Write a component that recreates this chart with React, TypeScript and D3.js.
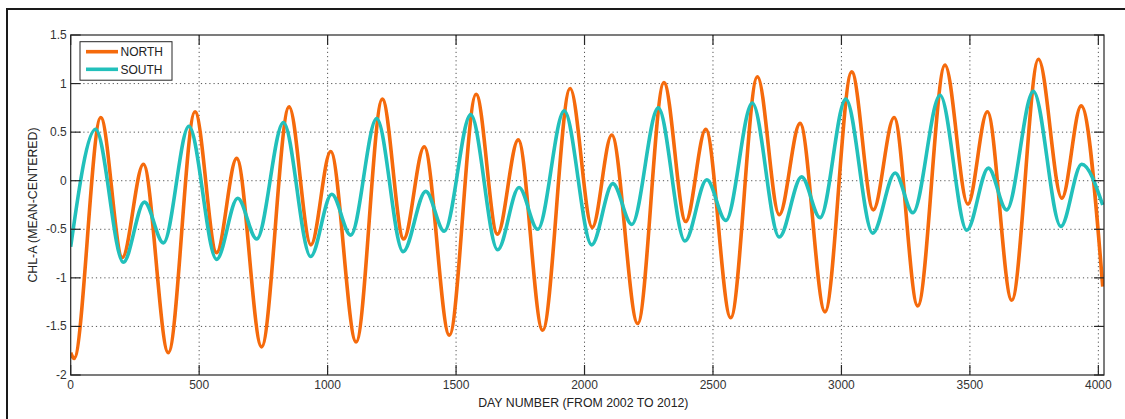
import * as d3 from 'd3';
import React, { useEffect, useRef } from 'react';

const northDays = [0, 13, 117, 201, 283, 380, 484, 568, 646, 743, 850, 935, 1012, 1111, 1213, 1296, 1376, 1474, 1578, 1661, 1742, 1837, 1944, 2030, 2106, 2207, 2309, 2394, 2472, 2569, 2673, 2758, 2839, 2936, 3040, 3124, 3205, 3297, 3403, 3492, 3568, 3663, 3767, 3858, 3933, 4017];
const northValues = [-1.77, -1.83, 0.65, -0.79, 0.17, -1.77, 0.71, -0.74, 0.23, -1.71, 0.76, -0.66, 0.30, -1.66, 0.84, -0.60, 0.35, -1.59, 0.89, -0.55, 0.42, -1.54, 0.95, -0.48, 0.47, -1.47, 1.01, -0.42, 0.53, -1.41, 1.07, -0.35, 0.59, -1.35, 1.12, -0.30, 0.65, -1.29, 1.19, -0.24, 0.71, -1.23, 1.25, -0.18, 0.77, -1.09];

const southDays = [0, 97, 205, 287, 361, 460, 568, 650, 724, 828, 934, 1016, 1090, 1191, 1294, 1382, 1454, 1557, 1662, 1745, 1818, 1921, 2028, 2110, 2184, 2287, 2391, 2476, 2550, 2653, 2758, 2845, 2917, 3017, 3122, 3209, 3278, 3384, 3488, 3572, 3643, 3747, 3854, 3935, 4017];
const southValues = [-0.68, 0.53, -0.84, -0.22, -0.64, 0.56, -0.81, -0.18, -0.60, 0.60, -0.78, -0.14, -0.56, 0.64, -0.73, -0.11, -0.52, 0.68, -0.71, -0.07, -0.50, 0.72, -0.66, -0.03, -0.45, 0.75, -0.62, 0.01, -0.41, 0.80, -0.58, 0.04, -0.38, 0.84, -0.54, 0.08, -0.33, 0.88, -0.51, 0.13, -0.30, 0.92, -0.47, 0.17, -0.25];

const xTicks = [0, 500, 1000, 1500, 2000, 2500, 3000, 3500, 4000];
const yTicks = [-2, -1.5, -1, -0.5, 0, 0.5, 1, 1.5];
const seriesNames = ['NORTH', 'SOUTH'];

const W = 1125;
const H = 419;

export default function App() {
    const ref = useRef<SVGSVGElement>(null);

    useEffect(() => {
        const svg = d3.select(ref.current);
        svg.selectAll('*').remove();

        const left = 70.7, right = 1104, top = 35, bottom = 375;
        const x = d3.scaleLinear().domain([0, 4022]).range([left, right]);
        const y = d3.scaleLinear().domain([-2, 1.5]).range([bottom, top]);
        const font = '"Liberation Sans", Arial, sans-serif';
        const ink = '#262626';
        const colors = ['#f56a0c', '#22c0bb'];

        svg.append('rect').attr('width', W).attr('height', H).attr('fill', '#fff');

        // outer frame (only the left and top edges show in the picture)
        svg.append('path')
            .attr('d', `M7,${H} V9 H${W}`)
            .attr('fill', 'none')
            .attr('stroke', '#1a1a1a')
            .attr('stroke-width', 2);

        svg.append('defs').append('clipPath').attr('id', 'plot')
            .append('rect')
            .attr('x', left).attr('y', top)
            .attr('width', right - left).attr('height', bottom - top);

        // dotted grid
        const grid = svg.append('g')
            .attr('stroke', '#555')
            .attr('stroke-width', 1)
            .attr('stroke-dasharray', '1.2,3');
        grid.selectAll('.gx').data(xTicks.filter(d => d > 0)).enter().append('line')
            .attr('x1', d => x(d)).attr('x2', d => x(d))
            .attr('y1', top).attr('y2', bottom);
        grid.selectAll('.gy').data(yTicks.filter(d => d > -2 && d < 1.5)).enter().append('line')
            .attr('x1', left).attr('x2', right)
            .attr('y1', d => y(d)).attr('y2', d => y(d));

        // curves
        const line = d3.line<[number, number]>()
            .x(d => x(d[0]))
            .y(d => y(d[1]))
            .curve(d3.curveMonotoneX);

        const series = [
            d3.zip(northDays, northValues) as [number, number][],
            d3.zip(southDays, southValues) as [number, number][],
        ];

        svg.append('g').attr('clip-path', 'url(#plot)')
            .selectAll('path').data(series).enter().append('path')
            .attr('d', d => line(d))
            .attr('fill', 'none')
            .attr('stroke', (d, i) => colors[i])
            .attr('stroke-width', 3.6)
            .attr('stroke-linejoin', 'round');

        // axes box and inward ticks on all four sides
        const axes = svg.append('g').attr('stroke', ink).attr('stroke-width', 1.2).attr('fill', 'none');
        axes.append('rect')
            .attr('x', left).attr('y', top)
            .attr('width', right - left).attr('height', bottom - top);
        const tick = 10;
        xTicks.forEach(t => {
            axes.append('line').attr('x1', x(t)).attr('x2', x(t)).attr('y1', bottom).attr('y2', bottom - tick);
            axes.append('line').attr('x1', x(t)).attr('x2', x(t)).attr('y1', top).attr('y2', top + tick);
        });
        yTicks.forEach(t => {
            axes.append('line').attr('x1', left).attr('x2', left + tick).attr('y1', y(t)).attr('y2', y(t));
            axes.append('line').attr('x1', right).attr('x2', right - tick).attr('y1', y(t)).attr('y2', y(t));
        });

        // tick labels
        svg.append('g').selectAll('text').data(xTicks).enter().append('text')
            .attr('x', d => x(d)).attr('y', bottom + 14)
            .attr('text-anchor', 'middle')
            .style('font', `12px ${font}`).attr('fill', '#333')
            .text(d => d);
        svg.append('g').selectAll('text').data(yTicks).enter().append('text')
            .attr('x', left - 4).attr('y', d => y(d) + 4)
            .attr('text-anchor', 'end')
            .style('font', `12px ${font}`).attr('fill', '#333')
            .text(d => d);

        // axis titles
        svg.append('text')
            .attr('x', (left + right) / 2 - 4).attr('y', 407)
            .attr('text-anchor', 'middle')
            .style('font', `12.3px ${font}`).attr('fill', '#222')
            .text('DAY NUMBER (FROM 2002 TO 2012)');
        svg.append('text')
            .attr('transform', `translate(36.5, ${(top + bottom) / 2}) rotate(-90)`)
            .attr('text-anchor', 'middle')
            .style('font', `12.3px ${font}`).attr('fill', '#222')
            .text('CHL-A (MEAN-CENTERED)');

        // legend
        const lg = svg.append('g').attr('transform', 'translate(80,41.7)');
        lg.append('rect')
            .attr('width', 92).attr('height', 38.5)
            .attr('fill', '#fff').attr('stroke', ink).attr('stroke-width', 1);
        seriesNames.forEach((name, i) => {
            const ly = 10 + i * 17.6;
            lg.append('line')
                .attr('x1', 6).attr('x2', 38).attr('y1', ly).attr('y2', ly)
                .attr('stroke', colors[i]).attr('stroke-width', 3.6);
            lg.append('text')
                .attr('x', 40.5).attr('y', ly + 4.3)
                .style('font', `12px ${font}`).attr('fill', '#222')
                .text(name);
        });
    }, []);

    return (
        <svg ref={ref} width={W} height={H}
            style={{ position: 'absolute', left: 0, top: 0, display: 'block' }}></svg>
    );
}
